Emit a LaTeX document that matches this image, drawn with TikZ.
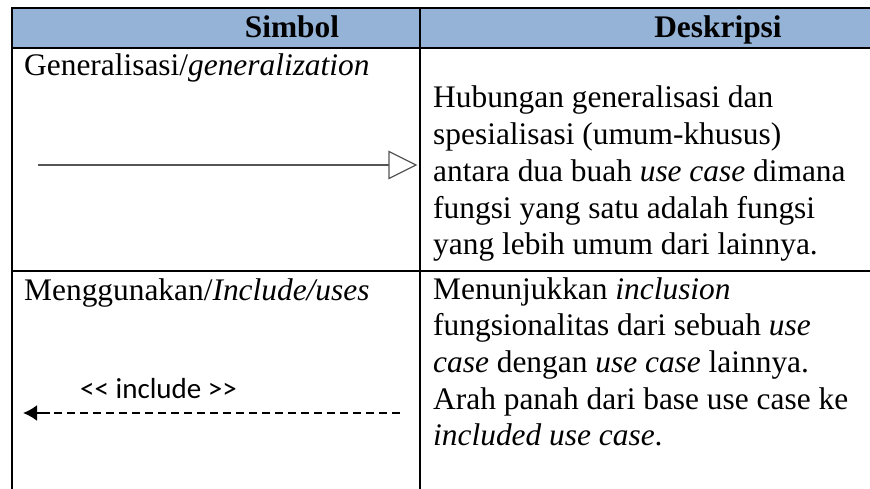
\documentclass[tikz,border=0pt]{standalone}
\usepackage{fontspec}
\setmainfont{Liberation Serif}
\newfontfamily\labelfont{Carlito}
\usetikzlibrary{arrows.meta}
\definecolor{headblue}{HTML}{95B3D7}
\definecolor{genline}{HTML}{555555}
\begin{document}
\begin{tikzpicture}[x=1pt,y=-1pt,
  rule/.style={line width=2pt,black},
  bodytext/.style={inner sep=0pt,anchor=base west,font=\fontsize{31.4}{36.7}\selectfont},
  headtext/.style={inner sep=0pt,anchor=base,font=\fontsize{31.4}{36.7}\selectfont\bfseries},
  stereo/.style={inner sep=0pt,anchor=base west,font=\labelfont\fontsize{29}{34}\selectfont},
  genlink/.style={genline,line width=1.2pt},
  genhead/.style={draw=genline,fill=white,line width=1.2pt,line join=miter},
  inclink/.style={black,line width=2pt,dash pattern=on 8.5pt off 4.5pt},
  inchead/.style={black,line width=2pt,-{Latex[length=14pt,width=16pt]}}
]
\useasboundingbox (0,0) rectangle (870,489);

% header band
\fill[headblue] (12,8) rectangle (870,48);

% table rules
\draw[rule] (11,8) -- (870,8);
\draw[rule] (11,48) -- (870,48);
\draw[rule] (11,271) -- (870,271);
\draw[rule] (12,7) -- (12,489);
\draw[rule] (420,7) -- (420,489);

% header labels
\node[headtext] (hsym) at (292,38) {Simbol};
\node[headtext] (hdesc) at (718,38) {Deskripsi};

% row 1: generalization
\node[bodytext] (gname) at (24,76) {Generalisasi/\textit{generalization}};
\coordinate (gstart) at (38,165);
\coordinate (gend) at (389,165);
\draw[genlink] (gstart) -- (gend);
\draw[genhead] (gend) -- ++(0,-13.5) -- ++(27,13.5) -- ++(-27,13.5) -- cycle;

\node[bodytext] (g1) at (433,108) {Hubungan generalisasi dan};
\node[bodytext] (g2) at (433,144.7) {spesialisasi (umum-khusus)};
\node[bodytext] (g3) at (433,181.4) {antara dua buah \textit{use case} dimana};
\node[bodytext] (g4) at (433,218.1) {fungsi yang satu adalah fungsi};
\node[bodytext] (g5) at (433,254.8) {yang lebih umum dari lainnya.};

% row 2: include
\node[bodytext] (iname) at (24,300) {Menggunakan/\textit{Include/uses}};
\node[stereo] (ilabel) at (80,398) {<< include >>};
\coordinate (ifrom) at (400,413);
\coordinate (imid) at (50,413);
\coordinate (ito) at (23,413);
\draw[inclink] (ifrom) -- (imid);
\draw[inchead] (imid) -- (ito);

\node[bodytext] (i1) at (433,299) {Menunjukkan \textit{inclusion}};
\node[bodytext] (i2) at (433,335.7) {fungsionalitas dari sebuah \textit{use}};
\node[bodytext] (i3) at (433,372.4) {\textit{case} dengan \textit{use case} lainnya.};
\node[bodytext] (i4) at (433,409.1) {Arah panah dari base use case ke};
\node[bodytext] (i5) at (433,445.8) {\textit{included use case}.};
\end{tikzpicture}
\end{document}
